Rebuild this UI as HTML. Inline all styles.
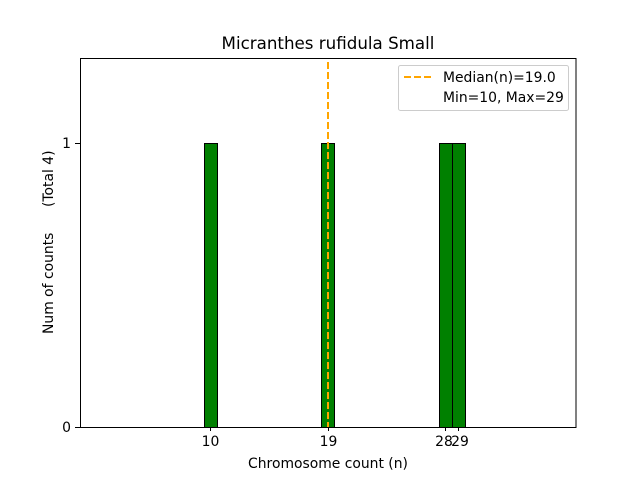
<!DOCTYPE html>
<html><head><style>body{margin:0;background:#fff}svg{display:block}text{font-family:"DejaVu Sans","Liberation Sans",sans-serif;fill:#000}</style></head>
<body>
<svg width="640" height="480" viewBox="0 0 640 480" xmlns="http://www.w3.org/2000/svg">
<rect width="640" height="480" fill="#fff"/>
<g fill="#008000" stroke="#000" stroke-width="1">
<rect x="204.5" y="143.5" width="13" height="284"/>
<rect x="321.5" y="143.5" width="13" height="284"/>
<rect x="439.5" y="143.5" width="13" height="284"/>
<rect x="452.5" y="143.5" width="13" height="284"/>
</g>
<line x1="328" y1="62" x2="328" y2="427" stroke="#ffa500" stroke-width="2" stroke-dasharray="7,3"/>
<rect x="80.5" y="58.5" width="495.5" height="369" fill="none" stroke="#000" stroke-width="1"/>
<g stroke="#000">
<line x1="75" y1="427.5" x2="80" y2="427.5"/><line x1="75" y1="143.5" x2="80" y2="143.5"/>
<line x1="210.5" y1="427" x2="210.5" y2="431"/><line x1="328.5" y1="427" x2="328.5" y2="431"/>
<line x1="445.5" y1="427" x2="445.5" y2="431"/><line x1="458.5" y1="427" x2="458.5" y2="431"/>
</g>
<g font-size="13.9" text-anchor="end">
<text x="71" y="432">0</text>
<text x="71" y="148">1</text>
</g>
<g font-size="13.9" text-anchor="middle">
<text x="210.5" y="446">10</text><text x="328.5" y="446">19</text>
<text x="444" y="446">28</text><text x="460" y="446">29</text>
<text x="328" y="468">Chromosome count (n)</text>
<text x="328" y="49" font-size="16.7">Micranthes rufidula Small</text>
</g>
<text font-size="13.9" transform="translate(53,334) rotate(-90)">Num of counts</text>
<text font-size="13.9" transform="translate(53,207) rotate(-90)">(Total 4)</text>
<rect x="398.5" y="65.5" width="170" height="45" rx="2" fill="#fff" stroke="#ccc"/>
<line x1="404" y1="77" x2="432" y2="77" stroke="#ffa500" stroke-width="2" stroke-dasharray="7,3"/>
<g font-size="13.9"><text x="443" y="82">Median(n)=19.0</text><text x="443" y="102">Min=10, Max=29</text></g>
</svg>
</body></html>
